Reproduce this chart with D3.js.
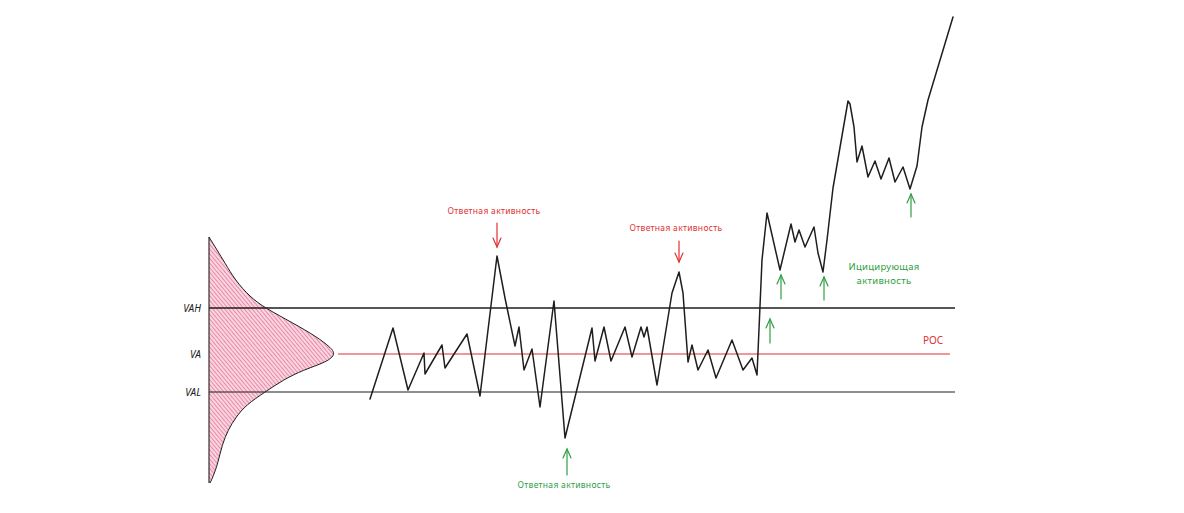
<!DOCTYPE html>
<html><head><meta charset="utf-8">
<script src="https://cdn.jsdelivr.net/npm/d3@7"></script>
<style>
html,body{margin:0;padding:0;background:#fff;}
svg{display:block;}
text{font-family:"Noto Sans",sans-serif;}
</style></head>
<body>
<script>
// ---- data ----
// price path: time index and price (price units, higher = up)
const priceTime  = [0,23,38,54,55,72,75,97,110,127,135,145,149,154,162,170,184,195,222,225,234,241,255,262,271,274,277,287,302,309,313,318,322,328,338,346,362,373,382,387,392,397,410,421,425,429,435,444,448,453,457,463,478,480,484,487,492,498,505,511,519,525,533,540,547,552,558,583];
const priceValue = [101,172,110,147,126,155,132,166,104,244,202,154,173,130,151,93,199,62,172,139,173,139,173,143,173,163,173,115,207,228,207,138,155,130,150,122,160,130,142,125,240,287,230,276,258,270,253,273,247,228,260,312,399,396,373,338,354,323,339,321,342,318,333,311,334,373,400,483];
// volume profile: price levels and volume
const profilePrice = [263,250,237,220,203,192,177,163,153,146,138,130,120,108,95,83,70,55,37,23,17];
const profileVolume = [0,8,16,26,41,56,84,108,121,127,118,94,74,56,37,27,19,13,9,4,1];
// levels
const levelNames = ["VAH","VA","VAL"];
const levelPrice = [192,146,108];
// annotations
const noteText = ["Ответная активность","Ответная активность","Ответная активность"];
const noteTime = [127,309,197];
const noteKind = ["down","down","up"];
const initArrowTime = [400,411,454,541];

// ---- scales ----
const W = 1184, H = 513;
const x = d3.scaleLinear().domain([0,583]).range([370,953]);
const y = d3.scaleLinear().domain([0,500]).range([500,0]);
const vx = d3.scaleLinear().domain([0,127]).range([209,336]);

const RED = "#e03131", GREEN = "#2f9e44", INK = "#1e1e1e", PINK = "#e0467a";

const svg = d3.select("body").append("svg").attr("width",W).attr("height",H);
const defs = svg.append("defs");
const pat = defs.append("pattern").attr("id","hatch").attr("patternUnits","userSpaceOnUse")
  .attr("width",3).attr("height",3).attr("patternTransform","rotate(-40)");
pat.append("rect").attr("width",3).attr("height",3).attr("fill","#f8d6e0");
pat.append("line").attr("x1",0).attr("y1",0).attr("x2",0).attr("y2",3)
  .attr("stroke",PINK).attr("stroke-width",1.2).attr("stroke-opacity",0.9);

// ---- volume profile ----
const prof = profilePrice.map((p,i)=>({p, v:profileVolume[i]}));
const area = d3.area().y(d=>y(d.p)).x0(vx(0)).x1(d=>vx(d.v)).curve(d3.curveBasis);
svg.append("path").datum(prof).attr("d",area).attr("fill","url(#hatch)");
const outline = d3.line().y(d=>y(d.p)).x(d=>vx(d.v)).curve(d3.curveBasis);
svg.append("path").datum(prof).attr("d",outline).attr("fill","none").attr("stroke",INK).attr("stroke-width",1);
svg.append("line").attr("x1",vx(0)).attr("x2",vx(0)).attr("y1",y(profilePrice[0])).attr("y2",y(profilePrice[profilePrice.length-1]))
  .attr("stroke",INK).attr("stroke-width",1.1);

// ---- levels ----
svg.append("line").attr("x1",vx(0)).attr("x2",x(585)).attr("y1",y(levelPrice[0])).attr("y2",y(levelPrice[0]))
  .attr("stroke",INK).attr("stroke-width",1.6);
svg.append("line").attr("x1",vx(0)).attr("x2",x(585)).attr("y1",y(levelPrice[2])).attr("y2",y(levelPrice[2]))
  .attr("stroke",INK).attr("stroke-width",1.2);
svg.append("line").attr("x1",338).attr("x2",x(580)).attr("y1",y(levelPrice[1])).attr("y2",y(levelPrice[1]))
  .attr("stroke",RED).attr("stroke-width",1);
levelNames.forEach((n,i)=>{
  svg.append("text").attr("x",201).attr("y",y(levelPrice[i])+4).attr("text-anchor","end")
    .attr("font-size",10).attr("font-style","italic").attr("fill","#222").text(n);
});
svg.append("text").attr("x",933).attr("y",y(levelPrice[1])-10).attr("text-anchor","middle")
  .attr("font-size",10).attr("fill",RED).text("POC");

// ---- price path ----
const pts = priceTime.map((t,i)=>[x(t),y(priceValue[i])]);
svg.append("path").attr("d",d3.line()(pts)).attr("fill","none").attr("stroke",INK)
  .attr("stroke-width",1.5).attr("stroke-linejoin","round").attr("stroke-linecap","round");

// ---- arrows ----
function arrow(xc, yTail, yTip, color){
  const dir = yTip > yTail ? 1 : -1;
  const g = svg.append("g").attr("stroke",color).attr("stroke-width",1.2).attr("fill","none").attr("stroke-linecap","round");
  g.append("line").attr("x1",xc).attr("x2",xc).attr("y1",yTail).attr("y2",yTip);
  g.append("polyline").attr("points",`${xc-4},${yTip-dir*9} ${xc},${yTip} ${xc+4},${yTip-dir*9}`);
}
// responsive activity
const noteTextY = [214,231,488];
const arrowSpan = [[223,247],[241,262],[475,449]];
noteText.forEach((t,i)=>{
  const xc = x(noteTime[i]);
  const col = noteKind[i]==="down" ? RED : GREEN;
  svg.append("text").attr("x",xc-3).attr("y",noteTextY[i]).attr("text-anchor","middle")
    .attr("font-size",8.5).attr("letter-spacing",0.3).attr("fill",col).text(t);
  arrow(xc, arrowSpan[i][0], arrowSpan[i][1], col);
});
// initiative activity arrows
const initSpan = [[343,319],[299,275],[300,277],[217,194]];
initArrowTime.forEach((t,i)=>arrow(x(t), initSpan[i][0], initSpan[i][1], GREEN));
svg.append("text").attr("x",884).attr("y",270).attr("text-anchor","middle").attr("font-size",9.5)
  .attr("letter-spacing",0.3).attr("fill",GREEN).text("Ицицирующая");
svg.append("text").attr("x",884).attr("y",284).attr("text-anchor","middle").attr("font-size",9.5)
  .attr("letter-spacing",0.3).attr("fill",GREEN).text("активность");
</script>
</body></html>
